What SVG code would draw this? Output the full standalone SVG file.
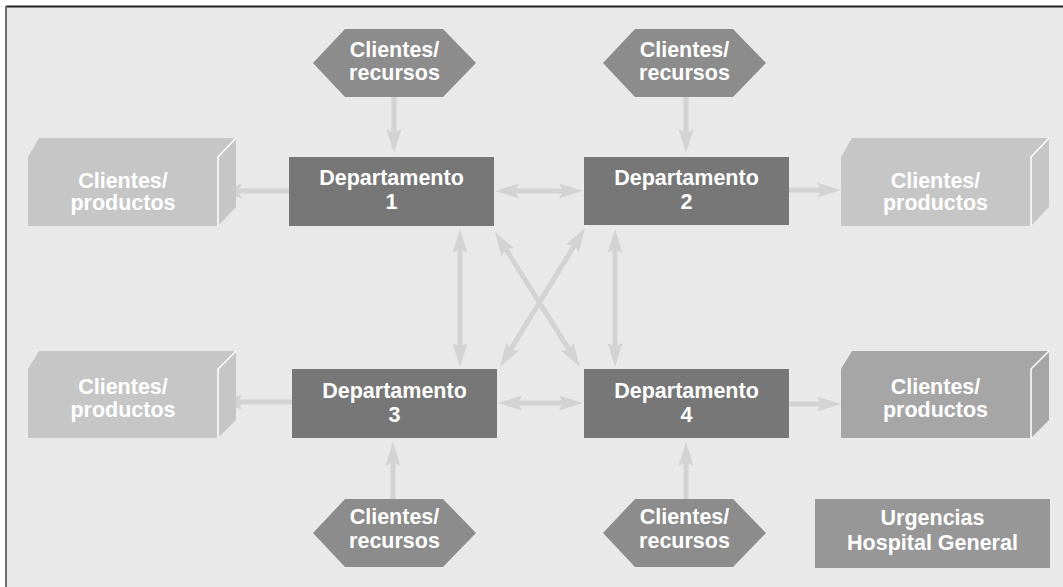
<svg xmlns="http://www.w3.org/2000/svg" width="1063" height="587" viewBox="0 0 1063 587">
<defs>
<style>
.t{font-family:"Liberation Sans",Arial,Helvetica,sans-serif;font-weight:bold;font-size:21.5px;fill:#ffffff;text-anchor:middle}
.dept{fill:#777777}
.hex{fill:#8c8c8c}
.box{fill:#c6c6c6}
.boxd{fill:#a6a6a6}
.edge{stroke:#ffffff;stroke-width:1.5;fill:none}
.c{stroke:#d3d3d3;stroke-width:5;fill:none}
.a1{marker-end:url(#ah)}
.a2{marker-start:url(#ah);marker-end:url(#ah)}
</style>
<marker id="ah" viewBox="0 -7.5 24 15" refX="9" refY="0" markerWidth="24" markerHeight="15" markerUnits="userSpaceOnUse" orient="auto-start-reverse">
<path d="M0,-7.5 L24,0 L0,7.5 L4,0 Z" fill="#d3d3d3"/>
</marker>
</defs>
<rect x="0" y="0" width="1063" height="587" fill="#ffffff"/>
<rect x="6" y="6" width="1057" height="581" fill="#e9e9e9"/>
<line x1="6" y1="6.5" x2="1063" y2="6.5" stroke="#222222" stroke-width="2"/>
<line x1="6" y1="6" x2="6" y2="587" stroke="#707070" stroke-width="2"/>

<g id="connectors">
<line class="c a1" x1="394" y1="97" x2="394" y2="138"/>
<line class="c a1" x1="686" y1="97" x2="686" y2="138"/>
<line class="c a1" x1="289" y1="191" x2="233" y2="191"/>
<line class="c a2" x1="510" y1="191" x2="568" y2="191"/>
<line class="c a1" x1="789" y1="190" x2="826" y2="190"/>
<line class="c a2" x1="460" y1="244" x2="460" y2="352"/>
<line class="c a2" x1="615" y1="244" x2="615" y2="352"/>
<line class="c a2" x1="503" y1="244.7" x2="572" y2="354.3"/>
<line class="c a2" x1="577.2" y1="240.8" x2="507.8" y2="354.2"/>
<line class="c a1" x1="292" y1="402" x2="233" y2="402"/>
<line class="c a2" x1="513" y1="403" x2="568" y2="403"/>
<line class="c a1" x1="789" y1="404" x2="826" y2="404"/>
<line class="c a1" x1="393" y1="499" x2="393" y2="457"/>
<line class="c a1" x1="686" y1="499" x2="686" y2="457"/>
</g>

<g id="dept1">
<rect class="dept" x="289" y="157" width="205" height="69"/>
<text class="t" x="391.5" y="185">Departamento</text>
<text class="t" x="391.5" y="209">1</text>
</g>
<g id="dept2">
<rect class="dept" x="584" y="157" width="205" height="68"/>
<text class="t" x="686.5" y="185">Departamento</text>
<text class="t" x="686.5" y="209">2</text>
</g>
<g id="dept3">
<rect class="dept" x="292" y="369" width="205" height="69"/>
<text class="t" x="394.5" y="398">Departamento</text>
<text class="t" x="394.5" y="422">3</text>
</g>
<g id="dept4">
<rect class="dept" x="584" y="369" width="205" height="69"/>
<text class="t" x="686.5" y="398">Departamento</text>
<text class="t" x="686.5" y="422">4</text>
</g>

<g id="hex1">
<polygon class="hex" points="313,63 345,29 443,29 476,63 443,97 345,97"/>
<text class="t" x="394.5" y="57">Clientes/</text>
<text class="t" x="394.5" y="80">recursos</text>
</g>
<g id="hex2">
<polygon class="hex" points="603,63 635,29 733,29 766,63 733,97 635,97"/>
<text class="t" x="684.5" y="57">Clientes/</text>
<text class="t" x="684.5" y="80">recursos</text>
</g>
<g id="hex3">
<polygon class="hex" points="313,533 345,499 443,499 476,533 443,567 345,567"/>
<text class="t" x="394.5" y="524">Clientes/</text>
<text class="t" x="394.5" y="548">recursos</text>
</g>
<g id="hex4">
<polygon class="hex" points="603,533 635,499 733,499 766,533 733,567 635,567"/>
<text class="t" x="684.5" y="524">Clientes/</text>
<text class="t" x="684.5" y="548">recursos</text>
</g>

<g id="out1">
<polygon class="box" points="28,157 39,138 236,138 236,207 218,226 28,226"/>
<polyline class="edge" points="236,138 218,157 218,226"/>
<text class="t" x="123" y="188">Clientes/</text>
<text class="t" x="123" y="210">productos</text>
</g>
<g id="out2">
<polygon class="box" points="841,157 852,138 1049,138 1049,207 1031,226 841,226"/>
<polyline class="edge" points="1049,138 1031,157 1031,226"/>
<text class="t" x="935.5" y="188">Clientes/</text>
<text class="t" x="935.5" y="210">productos</text>
</g>
<g id="out3">
<polygon class="box" points="28,369 39,351 236,351 236,420 218,438 28,438"/>
<polyline class="edge" points="236,351 218,369 218,438"/>
<text class="t" x="123" y="394">Clientes/</text>
<text class="t" x="123" y="417">productos</text>
</g>
<g id="out4">
<polygon class="boxd" points="841,369 852,351 1049,351 1049,420 1031,438 841,438"/>
<polyline class="edge" points="1049,351 1031,369 1031,438"/>
<text class="t" x="935.5" y="394">Clientes/</text>
<text class="t" x="935.5" y="417">productos</text>
</g>

<g id="label">
<rect x="815" y="499" width="235" height="69" fill="#979797"/>
<text class="t" x="932.5" y="525">Urgencias</text>
<text class="t" x="932.5" y="550">Hospital General</text>
</g>
</svg>
